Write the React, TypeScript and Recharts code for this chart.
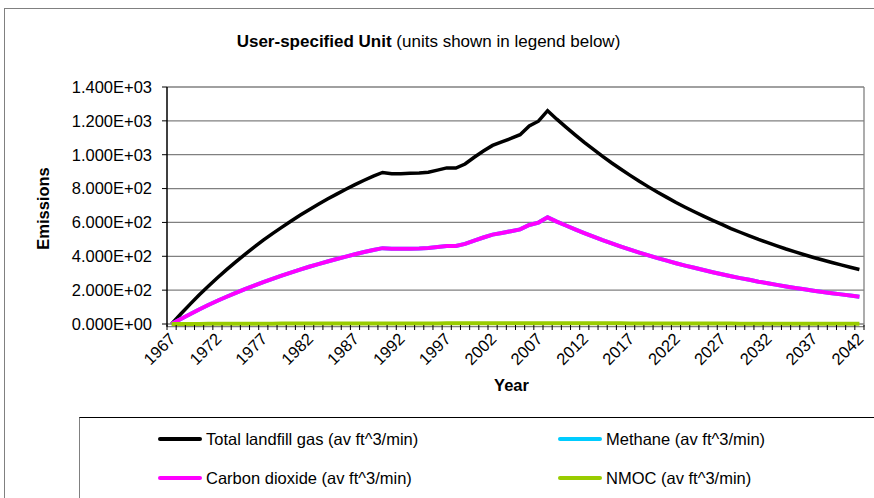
import React from 'react';
import { LineChart, Line, XAxis, YAxis, CartesianGrid, Legend } from 'recharts';

const years = [
  '1967', '1968', '1969', '1970', '1971', '1972', '1973', '1974', '1975', '1976',
  '1977', '1978', '1979', '1980', '1981', '1982', '1983', '1984', '1985', '1986',
  '1987', '1988', '1989', '1990', '1991', '1992', '1993', '1994', '1995', '1996',
  '1997', '1998', '1999', '2000', '2001', '2002', '2003', '2004', '2005', '2006',
  '2007', '2008', '2009', '2010', '2011', '2012', '2013', '2014', '2015', '2016',
  '2017', '2018', '2019', '2020', '2021', '2022', '2023', '2024', '2025', '2026',
  '2027', '2028', '2029', '2030', '2031', '2032', '2033', '2034', '2035', '2036',
  '2037', '2038', '2039', '2040', '2041', '2042',
];

const totalLandfillGas = [
  0, 59, 116, 171, 223, 273, 321, 367, 411, 454,
  495, 534, 571, 607, 642, 675, 707, 738, 767, 796,
  823, 849, 874, 895, 887, 888, 890, 892, 897, 909,
  922, 921, 945, 985, 1022, 1055, 1076, 1096, 1118, 1170,
  1198, 1260, 1210, 1163, 1117, 1073, 1031, 990, 951, 914,
  878, 843, 810, 778, 748, 718, 690, 663, 637, 612,
  588, 564, 542, 521, 500, 481, 462, 443, 426, 409,
  393, 378, 363, 349, 335, 322,
];

const methane = [
  0, 30, 58, 86, 112, 137, 161, 184, 206, 227,
  248, 267, 286, 304, 321, 338, 354, 369, 384, 398,
  412, 425, 437, 448, 444, 444, 445, 446, 449, 455,
  461, 461, 473, 493, 511, 528, 538, 548, 559, 585,
  599, 630, 605, 582, 559, 537, 516, 495, 476, 457,
  439, 422, 405, 389, 374, 359, 345, 332, 319, 306,
  294, 282, 271, 261, 250, 241, 231, 222, 213, 205,
  197, 189, 182, 175, 168, 161,
];

const carbonDioxide = [
  0, 30, 58, 86, 112, 137, 161, 184, 206, 227,
  248, 267, 286, 304, 321, 338, 354, 369, 384, 398,
  412, 425, 437, 448, 444, 444, 445, 446, 449, 455,
  461, 461, 473, 493, 511, 528, 538, 548, 559, 585,
  599, 630, 605, 582, 559, 537, 516, 495, 476, 457,
  439, 422, 405, 389, 374, 359, 345, 332, 319, 306,
  294, 282, 271, 261, 250, 241, 231, 222, 213, 205,
  197, 189, 182, 175, 168, 161,
];

const nmoc = [
  0, 0.2, 0.5, 0.7, 0.9, 1.1, 1.3, 1.5, 1.6, 1.8,
  2.0, 2.1, 2.3, 2.4, 2.6, 2.7, 2.8, 3.0, 3.1, 3.2,
  3.3, 3.4, 3.5, 3.6, 3.5, 3.6, 3.6, 3.6, 3.6, 3.6,
  3.7, 3.7, 3.8, 3.9, 4.1, 4.2, 4.3, 4.4, 4.5, 4.7,
  4.8, 5.0, 4.8, 4.7, 4.5, 4.3, 4.1, 4.0, 3.8, 3.7,
  3.5, 3.4, 3.2, 3.1, 3.0, 2.9, 2.8, 2.7, 2.5, 2.4,
  2.4, 2.3, 2.2, 2.1, 2.0, 1.9, 1.8, 1.8, 1.7, 1.6,
  1.6, 1.5, 1.5, 1.4, 1.3, 1.3,
];

const xTickLabels = [
  '1967', '1972', '1977', '1982', '1987', '1992', '1997', '2002',
  '2007', '2012', '2017', '2022', '2027', '2032', '2037', '2042',
];

const yTicks = [0, 200, 400, 600, 800, 1000, 1200, 1400];

const seriesOrder = ['total', 'methane', 'co2', 'nmoc'];

const seriesNames: Record<string, string> = {
  total: 'Total landfill gas (av ft^3/min)',
  methane: 'Methane (av ft^3/min)',
  co2: 'Carbon dioxide (av ft^3/min)',
  nmoc: 'NMOC (av ft^3/min)',
};

const titleBold = 'User-specified Unit';
const titleRest = ' (units shown in legend below)';
const yAxisTitle = 'Emissions';
const xAxisTitle = 'Year';

const data = years.map((year, i) => ({
  year,
  total: totalLandfillGas[i],
  methane: methane[i],
  co2: carbonDioxide[i],
  nmoc: nmoc[i],
}));

const FONT = '"Liberation Sans", Arial, Helvetica, sans-serif';
const FS = 16.5;
const W = 874;
const H = 498;
const PLOT_LEFT = 167;
const PLOT_RIGHT = 864;
const PLOT_TOP = 87;
const ZERO_Y = 324;
const Y_MAX = 1400;
const Y_MIN = -16; // small overshoot below zero so the axis extends slightly past 0
const PX_PER_UNIT = (ZERO_Y - PLOT_TOP) / Y_MAX;
const PLOT_BOTTOM = ZERO_Y - Y_MIN * PX_PER_UNIT;
const BELOW = PLOT_BOTTOM - ZERO_Y;
const STEP = (PLOT_RIGHT - PLOT_LEFT) / years.length;
const X_AXIS_H = 70;

function formatSci(v: number): string {
  const [m, e] = v.toExponential(3).split('e');
  const sign = e[0] === '-' ? '-' : '+';
  const digits = e.replace(/[+-]/, '').padStart(2, '0');
  return `${m}E${sign}${digits}`;
}

const XTick = (props: any) => {
  const { x, y, payload, index } = props;
  const showLabel = xTickLabels.includes(String(payload.value));
  const last = index === years.length - 1;
  const y0 = y - BELOW;
  const lx = x + 5;
  const ly = y0 + 16;
  return (
    <g>
      <line x1={x - STEP / 2} y1={y0 + 1} x2={x - STEP / 2} y2={y0 + 6} stroke="#000" strokeWidth={1} />
      {last && <line x1={x + STEP / 2} y1={y0 + 1} x2={x + STEP / 2} y2={y0 + 6} stroke="#000" strokeWidth={1} />}
      {showLabel && (
        <text
          x={lx}
          y={ly}
          textAnchor="end"
          transform={`rotate(-45 ${lx} ${ly})`}
          fontSize={FS}
          fontFamily={FONT}
          fill="#000"
        >
          {payload.value}
        </text>
      )}
    </g>
  );
};

const YTitle = (props: any) => {
  const vb = props.viewBox || { x: 0, y: PLOT_TOP, width: PLOT_LEFT, height: ZERO_Y - PLOT_TOP };
  const cx = vb.x + 43;
  const cy = PLOT_TOP + (ZERO_Y - PLOT_TOP) / 2 + 3;
  return (
    <text
      x={cx}
      y={cy}
      textAnchor="middle"
      dominantBaseline="central"
      transform={`rotate(-90 ${cx} ${cy})`}
      fontSize={FS}
      fontWeight="bold"
      fontFamily={FONT}
      fill="#000"
    >
      {yAxisTitle}
    </text>
  );
};

const XTitle = (props: any) => {
  const vb = props.viewBox || { x: PLOT_LEFT, y: PLOT_BOTTOM, width: PLOT_RIGHT - PLOT_LEFT, height: X_AXIS_H };
  const cx = vb.x + vb.width / 2 - 4;
  const cy = vb.y - BELOW + 61;
  return (
    <text
      x={cx}
      y={cy}
      textAnchor="middle"
      dominantBaseline="central"
      fontSize={FS}
      fontWeight="bold"
      fontFamily={FONT}
      fill="#000"
    >
      {xAxisTitle}
    </text>
  );
};

function AxisTitle(props: any) {
  return props.kind === 'x' ? <XTitle {...props} /> : <YTitle {...props} />;
}

const LegendBox = (props: any) => {
  const raw = props.payload || [];
  const payload = seriesOrder
    .map((key) => raw.find((e: any) => e.dataKey === key))
    .filter(Boolean);
  const colX = [78, 478];
  const rowY = [21, 60];
  return (
    <div
      style={{
        position: 'relative',
        width: 820,
        height: 100,
        borderTop: '1.5px solid #000',
        borderLeft: '1.5px solid #808080',
        boxSizing: 'border-box',
        fontFamily: FONT,
        fontSize: FS,
        color: '#000',
      }}
    >
      {payload.map((entry: any, i: number) => {
        const col = i % 2;
        const row = Math.floor(i / 2);
        return (
          <div
            key={String(entry.dataKey)}
            style={{
              position: 'absolute',
              left: colX[col],
              top: rowY[row] - 10,
              height: 20,
              display: 'flex',
              alignItems: 'center',
              whiteSpace: 'nowrap',
            }}
          >
            <span
              style={{
                display: 'inline-block',
                width: 44,
                height: 4,
                borderRadius: 2,
                background: entry.color,
                marginRight: 4,
              }}
            />
            <span>{entry.value}</span>
          </div>
        );
      })}
    </div>
  );
};

export default function App() {
  return (
    <div
      style={{
        position: 'absolute',
        left: 0,
        top: 0,
        width: W,
        height: H,
        overflow: 'hidden',
        background: '#fff',
      }}
    >
      <div
        style={{
          position: 'absolute',
          left: 4,
          top: 8,
          width: 900,
          height: 600,
          border: '1.5px solid #808080',
          boxSizing: 'border-box',
        }}
      />
      <div
        style={{
          position: 'absolute',
          left: 0,
          top: 32,
          width: 857,
          textAlign: 'center',
          fontFamily: FONT,
          fontSize: 17,
          lineHeight: '20px',
          color: '#000',
          whiteSpace: 'nowrap',
        }}
      >
        <span style={{ fontWeight: 'bold' }}>{titleBold}</span>
        <span>{titleRest}</span>
      </div>
      <div style={{ position: 'absolute', left: 0, top: 0 }}>
        <LineChart
          width={W}
          height={H}
          data={data}
          margin={{ top: PLOT_TOP, right: W - PLOT_RIGHT, bottom: H - PLOT_BOTTOM - X_AXIS_H, left: 0 }}
        >
          <CartesianGrid
            stroke="#808080"
            strokeWidth={1.3}
            horizontal={true}
            vertical={true}
            verticalPoints={[PLOT_RIGHT]}
          />
          <XAxis
            dataKey="year"
            type="category"
            interval={0}
            height={X_AXIS_H}
            padding={{ left: STEP / 2, right: STEP / 2 }}
            tickSize={0}
            tickMargin={0}
            tickLine={false}
            axisLine={false}
            tick={<XTick />}
            label={<AxisTitle kind="x" />}
          />
          <YAxis
            type="number"
            domain={[Y_MIN, Y_MAX]}
            ticks={yTicks}
            interval={0}
            width={PLOT_LEFT}
            tickSize={5}
            tickMargin={10}
            tickFormatter={formatSci}
            axisLine={{ stroke: '#000', strokeWidth: 1.5 }}
            tickLine={{ stroke: '#000', strokeWidth: 1 }}
            tick={{ fontSize: FS, fill: '#000', fontFamily: FONT }}
            label={<AxisTitle kind="y" />}
          />
          <Legend
            layout="horizontal"
            verticalAlign="middle"
            align="center"
            itemSorter={null as any}
            content={<LegendBox />}
            wrapperStyle={{ position: 'absolute', left: 79, top: 417, width: 820, height: 100 }}
          />
          <Line
            type="linear"
            dataKey="total"
            name={seriesNames.total}
            stroke="#000000"
            strokeWidth={3.5}
            dot={false}
            activeDot={false}
            isAnimationActive={false}
          />
          <Line
            type="linear"
            dataKey="methane"
            name={seriesNames.methane}
            stroke="#00CCFF"
            strokeWidth={4}
            dot={false}
            activeDot={false}
            isAnimationActive={false}
          />
          <Line
            type="linear"
            dataKey="co2"
            name={seriesNames.co2}
            stroke="#FF00FF"
            strokeWidth={4}
            dot={false}
            activeDot={false}
            isAnimationActive={false}
          />
          <Line
            type="linear"
            dataKey="nmoc"
            name={seriesNames.nmoc}
            stroke="#99CC00"
            strokeWidth={4}
            dot={false}
            activeDot={false}
            isAnimationActive={false}
          />
        </LineChart>
      </div>
    </div>
  );
}
